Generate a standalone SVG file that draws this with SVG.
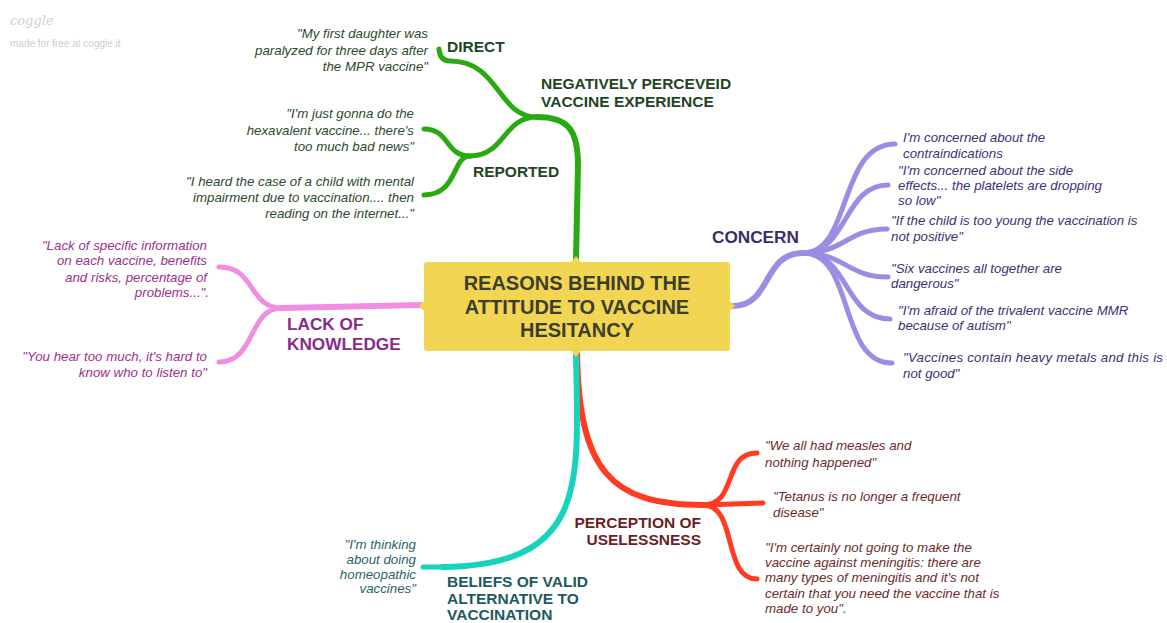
<svg xmlns="http://www.w3.org/2000/svg" width="1167" height="623" viewBox="0 0 1167 623">
<style>
.q{font-family:"Liberation Sans",Arial,sans-serif;font-size:13.3px;font-style:italic}
.l{font-family:"Liberation Sans",Arial,sans-serif;font-size:15.5px;font-weight:bold}
.l2{font-family:"Liberation Sans",Arial,sans-serif;font-size:17.2px;font-weight:bold}
.e{text-anchor:end}
.br{fill:none;stroke-linecap:round;stroke-linejoin:round}
.g{stroke:#2aaa12}.p{stroke:#9d8ce4}.k{stroke:#f08fe2}.t{stroke:#17d3bd}.r{stroke:#ff3b22}
.gq{fill:#2c4a2c}.gl{fill:#1f4423}
.pq{fill:#3d2f7a}.pl{fill:#3a2d6e}
.kq{fill:#9c2f8f}.kl{fill:#8a2a88}
.tq{fill:#2a6466}.tl{fill:#1b5a5e}
.rq{fill:#6b2c2c}.rl{fill:#6a1f22}
</style>
<rect width="1167" height="623" fill="#ffffff"/>
<g id="watermark">
<text x="10" y="25" font-family="'DejaVu Serif',serif" font-style="italic" font-size="13" fill="#cfcfcf">coggle</text>
<text x="10" y="47" font-family="'Liberation Sans',Arial,sans-serif" font-size="10" fill="#cccccc">made for free at coggle.it</text>
</g>
<g id="connectors">
<path class="br r" stroke-width="6" d="M577,353 C579,470 610,505 703,505"/>
<path class="br r" stroke-width="5" d="M703,505 C738,505 722,453 757,453"/>
<path class="br r" stroke-width="5" d="M703,505 L763,503"/>
<path class="br r" stroke-width="5" d="M703,505 C738,505 722,579 757,579"/>
<path class="br t" stroke-width="6" d="M576,353 C578,480 590,565 443,567"/>
<path class="br t" stroke-width="5" d="M443,567 L423,567"/>
<path class="br g" stroke-width="6" d="M576,260 L578,165 C578,130 568,117 537,117"/>
<path class="br g" stroke-width="5" d="M537,117 C497,117 500,61 450,61 Q440,61 439,49"/>
<path class="br g" stroke-width="5" d="M537,117 C503,117 505,156 470,156"/>
<path class="br g" stroke-width="5" d="M470,156 C445,156 450,129 424,129"/>
<path class="br g" stroke-width="5" d="M470,156 C452,156 458,195 424,195"/>
<path class="br p" stroke-width="6" d="M733,306 C772,306 762,253 803,253"/>
<path class="br p" stroke-width="5" d="M803,253 C852,253 838,144 895,144"/>
<path class="br p" stroke-width="5" d="M803,253 C848,253 843,185 888,185"/>
<path class="br p" stroke-width="5" d="M803,253 C845,253 847,229 887,229"/>
<path class="br p" stroke-width="5" d="M803,253 C845,253 847,277 888,277"/>
<path class="br p" stroke-width="5" d="M803,253 C850,253 843,319 890,319"/>
<path class="br p" stroke-width="5" d="M803,253 C855,253 838,363 892,363"/>
<path class="br k" stroke-width="6" d="M421,305 L282,308"/>
<path class="br k" stroke-width="5" d="M282,308 C248,308 256,267 219,267"/>
<path class="br k" stroke-width="5" d="M282,308 C248,308 256,362 219,362"/>
</g>
<g id="center">
<rect x="424" y="262" width="306" height="89" rx="3" fill="#f2d553"/>
<polygon points="571,262 576,256 581,262" fill="#f2d553"/>
<polygon points="571,351 576,357 581,351" fill="#f2d553"/>
<polygon points="424,301 419,306 424,311" fill="#f2d553"/>
<polygon points="730,301 735,306 730,311" fill="#f2d553"/>
<text x="577" y="290" text-anchor="middle" font-family="'Liberation Sans',Arial,sans-serif" font-size="20" font-weight="bold" fill="#3b3f2a">REASONS BEHIND THE</text>
<text x="577" y="314" text-anchor="middle" font-family="'Liberation Sans',Arial,sans-serif" font-size="20" font-weight="bold" fill="#3b3f2a">ATTITUDE TO VACCINE</text>
<text x="577" y="337" text-anchor="middle" font-family="'Liberation Sans',Arial,sans-serif" font-size="20" font-weight="bold" fill="#3b3f2a">HESITANCY</text>
</g>
<g id="negative">
<text class="l gl" x="541" y="89">NEGATIVELY PERCEVEID</text>
<text class="l gl" x="541" y="107">VACCINE EXPERIENCE</text>
</g>
<g id="direct"><text class="l gl" x="447" y="52">DIRECT</text></g>
<g id="direct-quote">
<text class="q gq e" x="428" y="38">"My first daughter was</text>
<text class="q gq e" x="428" y="55">paralyzed for three days after</text>
<text class="q gq e" x="428" y="71">the MPR vaccine"</text>
</g>
<g id="reported"><text class="l gl" x="473" y="177">REPORTED</text></g>
<g id="reported-quote-1">
<text class="q gq e" x="414" y="118">"I'm just gonna do the</text>
<text class="q gq e" x="414" y="135">hexavalent vaccine... there's</text>
<text class="q gq e" x="414" y="151">too much bad news"</text>
</g>
<g id="reported-quote-2">
<text class="q gq e" x="414" y="186">"I heard the case of a child with mental</text>
<text class="q gq e" x="414" y="202">impairment due to vaccination.... then</text>
<text class="q gq e" x="414" y="218">reading on the internet..."</text>
</g>
<g id="concern"><text class="l2 pl" x="712" y="243">CONCERN</text></g>
<g id="concern-1">
<text class="q pq" x="903" y="142">I'm concerned about the</text>
<text class="q pq" x="903" y="158">contraindications</text>
</g>
<g id="concern-2">
<text class="q pq" x="898" y="175">"I'm concerned about the side</text>
<text class="q pq" x="898" y="190">effects... the platelets are dropping</text>
<text class="q pq" x="898" y="205">so low"</text>
</g>
<g id="concern-3">
<text class="q pq" x="891" y="225">"If the child is too young the vaccination is</text>
<text class="q pq" x="891" y="241">not positive"</text>
</g>
<g id="concern-4">
<text class="q pq" x="891" y="273">"Six vaccines all together are</text>
<text class="q pq" x="891" y="288">dangerous"</text>
</g>
<g id="concern-5">
<text class="q pq" x="898" y="315">"I'm afraid of the trivalent vaccine MMR</text>
<text class="q pq" x="898" y="330">because of autism"</text>
</g>
<g id="concern-6">
<text class="q pq" x="903" y="362" textLength="260" lengthAdjust="spacing">"Vaccines contain heavy metals and this is</text>
<text class="q pq" x="903" y="378">not good"</text>
</g>
<g id="knowledge">
<text class="l2 kl" x="287" y="330">LACK OF</text>
<text class="l2 kl" x="287" y="350">KNOWLEDGE</text>
</g>
<g id="knowledge-1">
<text class="q kq e" x="207" y="250">"Lack of specific information</text>
<text class="q kq e" x="207" y="265">on each vaccine, benefits</text>
<text class="q kq e" x="207" y="282">and risks, percentage of</text>
<text class="q kq e" x="209" y="297">problems...".</text>
</g>
<g id="knowledge-2">
<text class="q kq e" x="207" y="361">"You hear too much, it's hard to</text>
<text class="q kq e" x="207" y="377">know who to listen to"</text>
</g>
<g id="alternative">
<text class="l tl" x="447" y="587">BELIEFS OF VALID</text>
<text class="l tl" x="447" y="604">ALTERNATIVE TO</text>
<text class="l tl" x="447" y="620">VACCINATION</text>
</g>
<g id="alternative-1">
<text class="q tq e" x="416" y="549">"I'm thinking</text>
<text class="q tq e" x="416" y="564">about doing</text>
<text class="q tq e" x="416" y="579">homeopathic</text>
<text class="q tq e" x="416" y="593">vaccines"</text>
</g>
<g id="useless">
<text class="l rl e" x="701" y="528">PERCEPTION OF</text>
<text class="l rl e" x="701" y="545">USELESSNESS</text>
</g>
<g id="useless-1">
<text class="q rq" x="765" y="450">"We all had measles and</text>
<text class="q rq" x="765" y="467">nothing happened"</text>
</g>
<g id="useless-2">
<text class="q rq" x="773" y="501">"Tetanus is no longer a frequent</text>
<text class="q rq" x="773" y="517">disease"</text>
</g>
<g id="useless-3">
<text class="q rq" x="765" y="552">"I'm certainly not going to make the</text>
<text class="q rq" x="765" y="567">vaccine against meningitis: there are</text>
<text class="q rq" x="765" y="582">many types of meningitis and it's not</text>
<text class="q rq" x="765" y="598">certain that you need the vaccine that is</text>
<text class="q rq" x="765" y="613">made to you".</text>
</g>
</svg>
